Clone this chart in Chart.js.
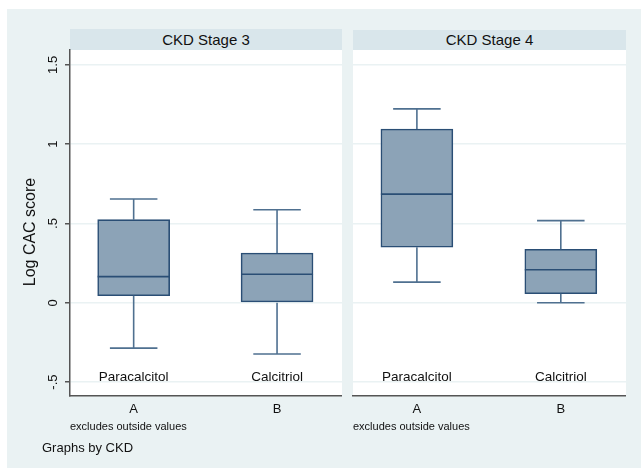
<!DOCTYPE html>
<html><head><meta charset="utf-8">
<script src="https://cdn.jsdelivr.net/npm/chart.js@4.4.1/dist/chart.umd.min.js"></script>
<style>
html,body{margin:0;padding:0;background:#fff;width:641px;height:468px;overflow:hidden;font-family:"Liberation Sans",Arial,sans-serif;color:#111;}
#bg{position:absolute;left:7px;top:9px;width:634px;height:459px;background:#EAF2F3;}
.hdr{position:absolute;background:#D9E6EB;color:#111;font-size:15px;text-align:center;}
.wrap{position:absolute;}
#ytitle{position:absolute;left:-70px;top:222px;width:200px;height:20px;line-height:20px;font-size:16px;text-align:center;transform:rotate(-90deg);}
#note{position:absolute;left:42px;top:440px;font-size:13px;line-height:16px;}
</style></head><body>
<div id="bg"></div>
<div class="hdr" id="h1" style="left:70px;top:29px;width:272px;height:21px;line-height:21px"></div>
<div class="hdr" id="h2" style="left:353px;top:30px;width:273px;height:20px;line-height:20px"></div>
<div class="wrap" style="left:0;top:29px;width:342px;height:439px"><canvas id="c1"></canvas></div>
<div class="wrap" style="left:342px;top:29px;width:284px;height:439px"><canvas id="c2"></canvas></div>
<div id="ytitle">Log CAC score</div>
<div id="note">Graphs by CKD</div>
<script>
// ---- data ----
const panels = ['CKD Stage 3', 'CKD Stage 4'];
const categories = ['A', 'B'];
const drugNames = ['Paracalcitol', 'Calcitriol'];
const xPositions = [1, 2];

const stage3Lower  = [-0.286, -0.323];
const stage3Q1     = [0.044, 0.0];
const stage3Median = [0.165, 0.180];
const stage3Q3     = [0.524, 0.314];
const stage3Upper  = [0.654, 0.587];

const stage4Lower  = [0.130, 0.0];
const stage4Q1     = [0.350, 0.057];
const stage4Median = [0.685, 0.208];
const stage4Q3     = [1.096, 0.337];
const stage4Upper  = [1.223, 0.518];

const yTicks = [-0.5, 0, 0.5, 1, 1.5];
const yTickLabels = ['-.5', '0', '.5', '1', '1.5'];
const xAxisNote = 'excludes outside values';

document.getElementById('h1').textContent = panels[0];
document.getElementById('h2').textContent = panels[1];

const FAM = '"Liberation Sans", Arial, sans-serif';
Chart.defaults.font.family = FAM;
Chart.defaults.color = '#111';

const BOX_FILL = '#8CA3B7';
const BOX_LINE = '#2A4E75';
const WHISK = '#4F7090';

const boxExtras = {
  id: 'boxExtras',
  beforeDraw(chart) {
    const {ctx, chartArea: a} = chart;
    ctx.save();
    ctx.fillStyle = '#fff';
    ctx.fillRect(a.left, a.top, a.right - a.left, a.bottom - a.top);
    ctx.restore();
  },
  afterDatasetsDraw(chart) {
    const o = chart.options.plugins.boxExtras;
    const {ctx, chartArea: a} = chart;
    const ys = chart.scales.y;
    const meta = chart.getDatasetMeta(0);
    ctx.save();
    meta.data.forEach((bar, i) => {
      const x = bar.x, w = bar.width;
      const pQ1 = ys.getPixelForValue(o.q1[i]);
      const pQ3 = ys.getPixelForValue(o.q3[i]);
      const pLo = ys.getPixelForValue(o.lower[i]);
      const pHi = ys.getPixelForValue(o.upper[i]);
      const pMed = ys.getPixelForValue(o.median[i]);
      const cap = w * 0.33;
      ctx.strokeStyle = WHISK;
      ctx.lineWidth = 1.6;
      ctx.beginPath();
      ctx.moveTo(x, pQ3); ctx.lineTo(x, pHi);
      ctx.moveTo(x - cap, pHi); ctx.lineTo(x + cap, pHi);
      ctx.moveTo(x, pQ1); ctx.lineTo(x, pLo);
      ctx.moveTo(x - cap, pLo); ctx.lineTo(x + cap, pLo);
      ctx.stroke();
      ctx.strokeStyle = BOX_LINE;
      ctx.lineWidth = 1.6;
      ctx.beginPath();
      ctx.moveTo(x - w / 2, pMed); ctx.lineTo(x + w / 2, pMed);
      ctx.stroke();
      ctx.fillStyle = '#111';
      ctx.font = '13.5px ' + FAM;
      ctx.textAlign = 'center';
      ctx.textBaseline = 'middle';
      ctx.fillText(o.names[i], x, a.bottom - 19);
    });
    ctx.restore();
  }
};

function makeChart(id, lower, q1, median, q3, upper, first) {
  const yScale = {
    min: -0.588, max: 1.594,
    afterBuildTicks: s => { s.ticks = yTicks.map(v => ({value: v})); },
    afterFit: s => { s.width = first ? 70 : 0; },
    grid: {color: '#EAF2F3', lineWidth: 1.5, tickColor: '#555', tickLength: 5, drawTicks: first},
    border: {display: first, color: '#555', width: 1.5},
    ticks: {
      display: first,
      callback: v => yTickLabels[yTicks.indexOf(v)],
      minRotation: 90, maxRotation: 90,
      crossAlign: 'center', padding: 3,
      font: {size: 13}, color: '#111'
    }
  };
  return new Chart(document.getElementById(id), {
    type: 'bar',
    data: {
      datasets: [{
        data: xPositions.map((x, i) => ({x: x, y: [q1[i], q3[i]]})),
        backgroundColor: BOX_FILL,
        borderColor: BOX_LINE,
        borderWidth: 1.6,
        borderSkipped: false,
        barThickness: 72
      }]
    },
    options: {
      responsive: true, maintainAspectRatio: false, animation: false,
      layout: {padding: {top: 21, bottom: 22, left: first ? 0 : 11, right: 0}},
      plugins: {
        legend: {display: false}, tooltip: {enabled: false},
        boxExtras: {lower, q1, median, q3, upper, names: drugNames}
      },
      scales: {
        x: {
          type: 'linear', min: 0.556, max: 2.453, offset: false,
          afterBuildTicks: s => { s.ticks = xPositions.map(v => ({value: v})); },
          afterFit: s => { s.height = 50; },
          grid: {display: false, drawTicks: false, offset: false},
          border: {color: '#555', width: 1.5},
          ticks: {callback: v => categories[xPositions.indexOf(v)], font: {size: 13}, color: '#111', padding: 6, maxRotation: 0, autoSkip: false},
          title: {display: true, text: xAxisNote, align: 'start', font: {size: 11}, color: '#111', padding: {top: 0, bottom: 12}}
        },
        y: yScale
      }
    },
    plugins: [boxExtras]
  });
}

makeChart('c1', stage3Lower, stage3Q1, stage3Median, stage3Q3, stage3Upper, true);
makeChart('c2', stage4Lower, stage4Q1, stage4Median, stage4Q3, stage4Upper, false);
</script>
</body></html>
